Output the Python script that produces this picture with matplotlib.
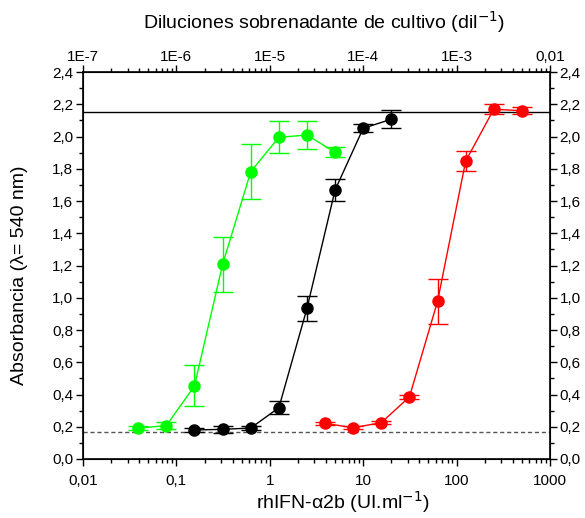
import matplotlib
matplotlib.use("Agg")
import matplotlib.pyplot as plt
from matplotlib.ticker import LogLocator, FixedLocator, FuncFormatter, MultipleLocator, NullFormatter

plt.rcParams['font.family'] = ['Liberation Sans', 'DejaVu Sans']

# Data
green_x = [0.039, 0.078, 0.156, 0.3125, 0.625, 1.25, 2.5, 5.0]
green_y = [0.192, 0.207, 0.453, 1.207, 1.782, 1.995, 2.009, 1.902]
green_err = [0.01, 0.02, 0.127, 0.17, 0.17, 0.10, 0.087, 0.03]

black_x = [0.156, 0.3125, 0.625, 1.25, 2.5, 5.0, 10.0, 20.0]
black_y = [0.180, 0.184, 0.192, 0.318, 0.934, 1.668, 2.051, 2.107]
black_err = [0.015, 0.022, 0.012, 0.04, 0.076, 0.067, 0.025, 0.056]

red_x = [3.9, 7.8, 15.6, 31.25, 62.5, 125.0, 250.0, 500.0]
red_y = [0.221, 0.194, 0.225, 0.385, 0.977, 1.847, 2.169, 2.160]
red_err = [0.01, 0.01, 0.01, 0.015, 0.14, 0.06, 0.03, 0.02]

upper_line = 2.15
lower_line = 0.17

top_ticks = [1e-7, 1e-6, 1e-5, 1e-4, 1e-3, 1e-2]
top_labels = ['1E-7', '1E-6', '1E-5', '1E-4', '1E-3', '0,01']
bottom_ticks = [0.01, 0.1, 1, 10, 100, 1000]
bottom_labels = ['0,01', '0,1', '1', '10', '100', '1000']

fig = plt.figure(figsize=(5.85, 5.18), dpi=100)
ax = fig.add_axes([83/585, 1 - 459/518, (550 - 83)/585, (459 - 72)/518])

ax.axhline(upper_line, color='black', lw=1.0, zorder=1)
ax.axhline(lower_line, color='#555555', lw=1.0, ls=(0, (3, 2)), zorder=1)

for xs, ys, es, c in [(green_x, green_y, green_err, '#00ff00'),
                      (black_x, black_y, black_err, 'black'),
                      (red_x, red_y, red_err, '#ff0000')]:
    ax.errorbar(xs, ys, yerr=es, fmt='o-', color=c, ecolor=c, markersize=8,
                lw=1.0, elinewidth=1.0, capsize=7, capthick=1.0, zorder=3)

ax.set_xscale('log')
ax.set_xlim(0.01, 1000)
ax.set_ylim(0, 2.4)

ax.xaxis.set_major_locator(FixedLocator(bottom_ticks))
ax.set_xticklabels(bottom_labels)
ax.xaxis.set_minor_locator(LogLocator(base=10, subs=range(2, 10), numticks=20))
ax.xaxis.set_minor_formatter(NullFormatter())

ax.yaxis.set_major_locator(MultipleLocator(0.2))
ax.yaxis.set_minor_locator(MultipleLocator(0.1))
ax.yaxis.set_major_formatter(FuncFormatter(lambda v, p: f"{v:.1f}".replace('.', ',')))

ax.tick_params(axis='x', which='major', direction='out', length=5, width=1.0,
               labelsize=11, pad=5.5)
ax.tick_params(axis='y', which='major', direction='out', length=5, width=1.0,
               labelsize=11, pad=2, right=True, labelright=True)
ax.tick_params(axis='both', which='minor', direction='out', length=3, width=1.0,
               right=True)

for s in ax.spines.values():
    s.set_linewidth(1.2)

ax.set_xlabel('rhIFN-α2b (UI.ml$^{-1}$)', fontsize=14)
ax.xaxis.label.set_va('center')
ax.xaxis.set_label_coords(0.556, (459 - 502) / 387)
ax.set_ylabel('Absorbancia (λ= 540 nm)', fontsize=14)
ax.yaxis.label.set_va('center')
ax.yaxis.set_label_coords((20 - 83) / 467, (459 - 275) / 387)

ax2 = ax.twiny()
ax2.set_xscale('log')
ax2.set_xlim(1e-7, 1e-2)
ax2.xaxis.set_major_locator(FixedLocator(top_ticks))
ax2.set_xticklabels(top_labels)
ax2.xaxis.set_minor_locator(LogLocator(base=10, subs=range(2, 10), numticks=20))
ax2.xaxis.set_minor_formatter(NullFormatter())
ax2.tick_params(axis='x', which='major', direction='out', length=5, width=1.0,
                labelsize=11, pad=1)
ax2.tick_params(axis='x', which='minor', direction='out', length=3, width=1.0)
ax2.set_xlabel('Diluciones sobrenadante de cultivo (dil$^{-1}$)', fontsize=14)
ax2.xaxis.label.set_va('center')
ax2.xaxis.set_label_coords((324 - 83) / 467, (459 - 22) / 387)

fig.savefig('out.png', dpi=100)
